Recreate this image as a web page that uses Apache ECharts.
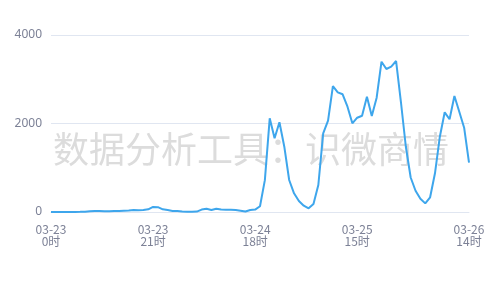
<!DOCTYPE html>
<html>
<head>
<meta charset="utf-8">
<script src="https://cdn.jsdelivr.net/npm/echarts@6/dist/echarts.min.js"></script>
<style>html,body{margin:0;padding:0;background:#fff}#c{width:500px;height:300px}</style>
</head>
<body>
<div id="c"></div>
<script>
var days = ["03-23", "03-24", "03-25", "03-26"];
var lastHour = 14;
var values = [
  0, 0, 0, 0, 0, 2, 3, 5, 15, 20,
  20, 18, 15, 20, 25, 30, 35, 45, 40, 45,
  60, 115, 110, 60, 45, 25, 20, 10, 5, 5,
  10, 55, 75, 45, 75, 55, 50, 50, 45, 30,
  10, 45, 55, 130, 720, 2117, 1665, 2027, 1476, 723,
  422, 249, 143, 83, 181, 610, 1778, 2063, 2847, 2705,
  2660, 2380, 2004, 2131, 2176, 2606, 2170, 2583, 3397, 3232,
  3284, 3412, 2480, 1480, 780, 480, 300, 195, 332, 875,
  1702, 2253, 2095, 2621, 2267, 1905, 1114
];
var yTicks = [0, 2000, 4000];
var watermark = "数据分析工具：识微商情";

var categories = [];
for (var d = 0; d < days.length; d++) {
  var maxH = (d === days.length - 1) ? lastHour : 23;
  for (var h = 0; h <= maxH; h++) categories.push(days[d] + "\n" + h + "时");
}
var lastIdx = categories.length - 1;

var chart = echarts.init(document.getElementById('c'), null, {renderer: 'canvas'});
chart.setOption({
  animation: false,
  grid: {left: 51, right: 31, top: 35, bottom: 88, containLabel: false},
  graphic: [{
    type: 'text', left: 53, top: 131, z: 0, silent: true,
    style: {text: watermark, fontSize: 36, fontFamily: 'Noto Sans CJK SC', fill: '#dcdcdc'}
  }],
  xAxis: {
    type: 'category', boundaryGap: false, data: categories,
    axisLine: {show: true, lineStyle: {color: '#E0E6F1'}},
    axisTick: {show: false},
    axisLabel: {
      color: '#7c8196', fontSize: 12, lineHeight: 12, margin: 11,
      fontFamily: 'Noto Sans CJK SC',
      showMaxLabel: true,
      interval: function (i) { return (i % 21 === 0 && i <= 63) || i === lastIdx; }
    },
    splitLine: {show: false}
  },
  yAxis: {
    type: 'value', min: yTicks[0], max: yTicks[yTicks.length - 1], interval: yTicks[1] - yTicks[0],
    axisLine: {show: false}, axisTick: {show: false},
    axisLabel: {color: '#7c8196', fontSize: 12, margin: 9, fontFamily: 'Noto Sans',
      formatter: function (v) { return String(v); }},
    splitLine: {lineStyle: {color: '#E0E6F1'}}
  },
  series: [{
    type: 'line', data: values, showSymbol: false, symbol: 'none', smooth: false, z: 3,
    lineStyle: {color: '#3ea6ec', width: 2},
    itemStyle: {color: '#3ea6ec'}
  }]
});
</script>
</body>
</html>
